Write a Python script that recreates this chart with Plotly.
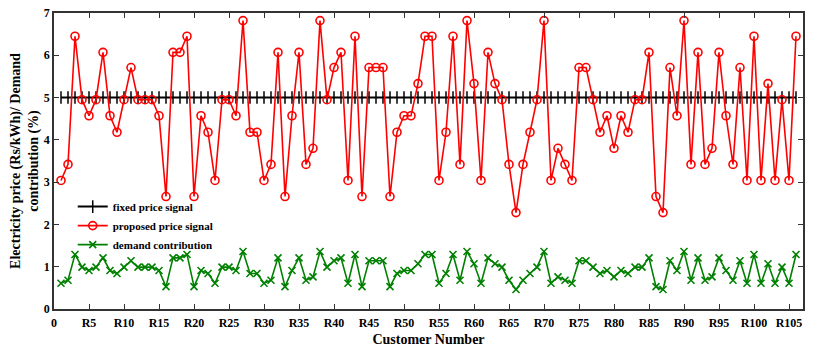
import plotly.graph_objects as go

customers = list(range(1, 107))

fixed_price = [5.0] * 106

proposed_price = [
    3.04, 3.42, 6.45, 4.95, 4.57, 4.95, 6.07, 4.57, 4.18, 4.95,
    5.71, 4.95, 4.95, 4.95, 4.57, 2.66, 6.07, 6.07, 6.45, 2.66,
    4.57, 4.18, 3.04, 4.95, 4.95, 4.57, 6.82, 4.18, 4.18, 3.04,
    3.42, 6.07, 2.66, 4.57, 6.07, 3.42, 3.80, 6.82, 4.95, 5.71,
    6.07, 3.04, 6.45, 2.66, 5.71, 5.71, 5.71, 2.66, 4.18, 4.57,
    4.57, 5.33, 6.45, 6.45, 3.04, 4.18, 6.45, 3.42, 6.82, 5.33,
    3.04, 6.07, 5.33, 4.95, 3.42, 2.28, 3.42, 4.18, 4.95, 6.82,
    3.04, 3.80, 3.42, 3.04, 5.71, 5.71, 4.95, 4.18, 4.57, 3.80,
    4.57, 4.18, 4.95, 4.95, 6.07, 2.66, 2.28, 5.71, 4.57, 6.82,
    3.42, 6.07, 3.42, 3.80, 6.07, 4.57, 3.42, 5.71, 3.04, 6.45,
    3.04, 5.33, 3.04, 4.95, 3.04, 6.45,
]

demand_contribution = [
    0.61, 0.68, 1.29, 0.99, 0.91, 0.99, 1.21, 0.91, 0.84, 0.99,
    1.14, 0.99, 0.99, 0.99, 0.91, 0.53, 1.21, 1.21, 1.29, 0.53,
    0.91, 0.84, 0.61, 0.99, 0.99, 0.91, 1.36, 0.84, 0.84, 0.61,
    0.68, 1.21, 0.53, 0.91, 1.21, 0.68, 0.76, 1.36, 0.99, 1.14,
    1.21, 0.61, 1.29, 0.53, 1.14, 1.14, 1.14, 0.53, 0.84, 0.91,
    0.91, 1.07, 1.29, 1.29, 0.61, 0.84, 1.29, 0.68, 1.36, 1.07,
    0.61, 1.21, 1.07, 0.99, 0.68, 0.46, 0.68, 0.84, 0.99, 1.36,
    0.61, 0.76, 0.68, 0.61, 1.14, 1.14, 0.99, 0.84, 0.91, 0.76,
    0.91, 0.84, 0.99, 0.99, 1.21, 0.53, 0.46, 1.14, 0.91, 1.36,
    0.68, 1.21, 0.68, 0.76, 1.21, 0.91, 0.68, 1.14, 0.61, 1.29,
    0.61, 1.07, 0.61, 0.99, 0.61, 1.29,
]

tick_vals = list(range(0, 106, 5))
tick_text = ["0"] + ["R%d" % v for v in tick_vals[1:]]

fnt = dict(family="Liberation Serif", size=12, color="black")

fig = go.Figure()
fig.add_trace(go.Scatter(
    x=customers, y=fixed_price, name="<b>fixed price signal</b>",
    mode="lines+markers",
    line=dict(color="black", width=2),
    marker=dict(symbol="line-ns", size=9, line=dict(color="black", width=1.5)),
))
fig.add_trace(go.Scatter(
    x=customers, y=proposed_price, name="<b>proposed price signal</b>",
    mode="lines+markers",
    line=dict(color="#ff0000", width=1.6),
    marker=dict(symbol="circle-open", size=8, color="#ff0000",
                line=dict(color="#ff0000", width=1.6)),
))
fig.add_trace(go.Scatter(
    x=customers, y=demand_contribution, name="<b>demand contribution</b>",
    mode="lines+markers",
    line=dict(color="#008000", width=1.6),
    marker=dict(symbol="x-thin-open", size=7, color="#008000",
                line=dict(color="#008000", width=1.6)),
))

# page body adds an 8px margin, so the figure is sized to sit inside the window
fig.update_layout(
    width=822, height=355,
    margin=dict(l=46, r=27, t=5, b=54),
    paper_bgcolor="white", plot_bgcolor="white",
    font=fnt,
    showlegend=True,
    legend=dict(x=0.025, y=0.395, xanchor="left", yanchor="top",
                bgcolor="rgba(0,0,0,0)", font=dict(size=11),
                tracegroupgap=0, itemwidth=30),
)
fig.update_xaxes(
    range=[0, 107], tickvals=tick_vals, ticktext=["<b>%s</b>" % t for t in tick_text],
    ticks="inside", ticklen=5, tickcolor="#333", showgrid=False, zeroline=False,
    showline=True, linecolor="#333", linewidth=1.5, mirror="ticks",
    automargin=False, ticklabelstandoff=2,
    title=dict(text="<b>Customer Number</b>", standoff=5),
)
fig.update_yaxes(
    range=[0, 7], dtick=1, tickformat="d",
    ticks="inside", ticklen=5, tickcolor="#333", showgrid=False, zeroline=False,
    showline=True, linecolor="#333", linewidth=1.5, mirror="ticks",
    automargin=False, ticklabeloverflow="allow",
    tickprefix="<b>", ticksuffix="</b>",
    title=dict(text="<b>Electricity price (Rs/kWh)/ Demand<br>contribution (%)</b>", standoff=2),
)

fig.write_html("out.html")
